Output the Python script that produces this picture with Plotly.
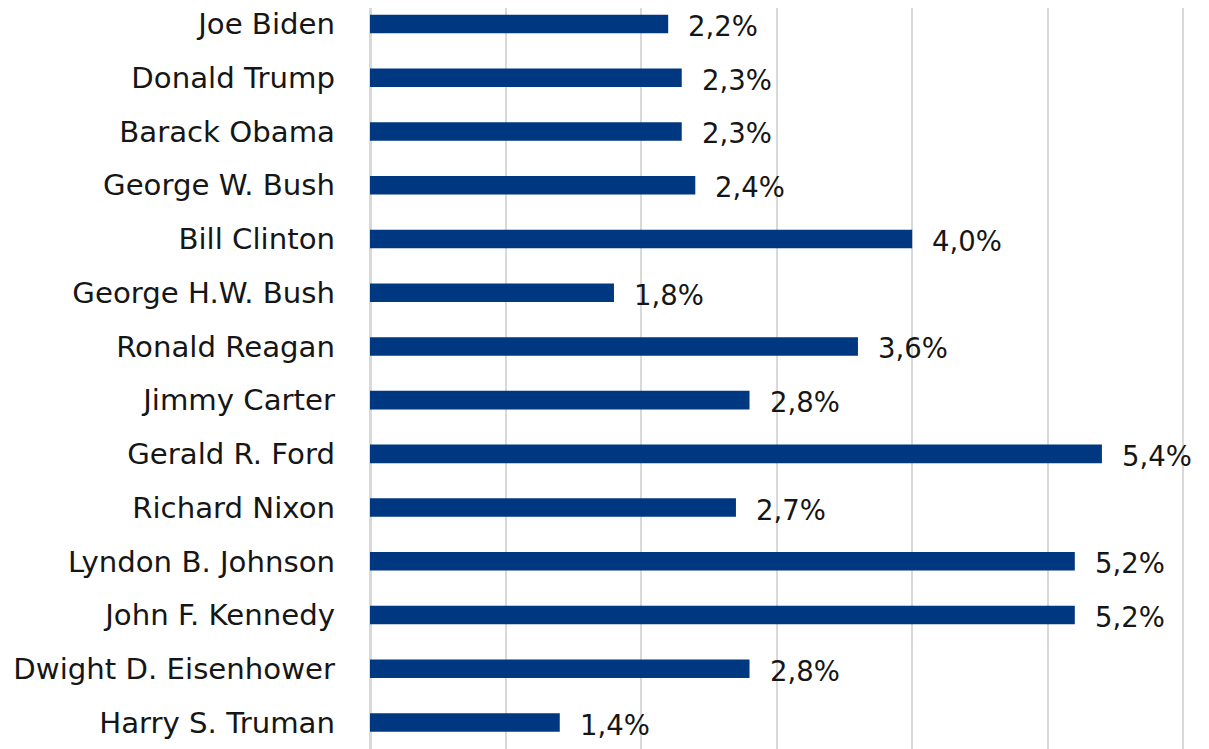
import plotly.graph_objects as go

presidents = ["Joe Biden", "Donald Trump", "Barack Obama", "George W. Bush", "Bill Clinton",
              "George H.W. Bush", "Ronald Reagan", "Jimmy Carter", "Gerald R. Ford",
              "Richard Nixon", "Lyndon B. Johnson", "John F. Kennedy",
              "Dwight D. Eisenhower", "Harry S. Truman"]
growth = [2.2, 2.3, 2.3, 2.4, 4.0, 1.8, 3.6, 2.8, 5.4, 2.7, 5.2, 5.2, 2.8, 1.4]
labels = [f"{v:.1f}%".replace(".", ",") for v in growth]

FONT = "DejaVu Sans"
TXT = "#161616"

fig = go.Figure()
fig.add_trace(go.Bar(
    x=growth, y=presidents, orientation="h",
    marker=dict(color="#003781", line=dict(width=0)),
    width=0.345,
))
for p, v, t in zip(presidents, growth, labels):
    fig.add_annotation(x=v, y=p, text=t, showarrow=False, xanchor="left",
                       yanchor="middle", xshift=18, yshift=-2,
                       font=dict(family=FONT, size=27.5, color=TXT))

fig.update_layout(
    width=1201, height=741,
    margin=dict(l=362, r=0, t=0, b=0, autoexpand=False),
    plot_bgcolor="white", paper_bgcolor="white",
    showlegend=False,
    font=dict(family=FONT, size=28, color=TXT),
    xaxis=dict(range=[0, 6.19], dtick=1, showgrid=True, gridcolor="#d9d9d9",
               gridwidth=2, showticklabels=False, zeroline=True,
               zerolinecolor="#d9d9d9", zerolinewidth=3, showline=False,
               automargin=False),
    yaxis=dict(range=[13.493, -0.298], showgrid=False, zeroline=False,
               ticks="", ticklabelstandoff=34, automargin=False,
               tickfont=dict(family=FONT, size=29.2, color=TXT)),
)
fig.write_html("out.html")
